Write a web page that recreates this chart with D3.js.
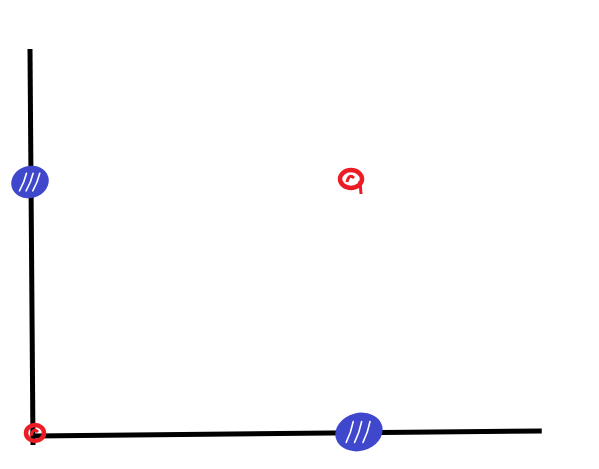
<!DOCTYPE html>
<html><head><meta charset="utf-8">
<script src="https://cdn.jsdelivr.net/npm/d3@7"></script>
<style>html,body{margin:0;padding:0;background:#fff;}svg{display:block;}</style>
</head><body>
<script>
// Data: XOR-like points
const xValues = [0, 0, 1, 1];
const yValues = [0, 1, 0, 1];
const classes = ["red", "blue", "blue", "red"];
const axisMax = { x: 1.58, y: 1.52 };

const W = 599, H = 469;
const svg = d3.select("body").append("svg").attr("width", W).attr("height", H);

const x = d3.scaleLinear().domain([0, 1]).range([33, 355]);
const y = d3.scaleLinear().domain([0, 1]).range([435, 181]);
const color = d3.scaleOrdinal().domain(["red", "blue"]).range(["#ec1c24", "#3f48cc"]);

// axes (hand-drawn style, slight tilt)
svg.append("line")
  .attr("x1", x(0) - 3).attr("y1", y(axisMax.y))
  .attr("x2", x(0)).attr("y2", y(0) + 10)
  .attr("stroke", "#000").attr("stroke-width", 5).attr("stroke-linecap", "butt");
svg.append("line")
  .attr("x1", x(0)).attr("y1", y(0) + 1)
  .attr("x2", x(axisMax.x)).attr("y2", y(0) - 4)
  .attr("stroke", "#000").attr("stroke-width", 5);

const pts = xValues.map((v, i) => ({ x: v, y: yValues[i], c: classes[i] }));
const sizes = { "0,0": [11, 10], "0,1": [19, 16], "1,0": [24, 19], "1,1": [13, 11] };
const offs = { "0,0": [2, -2], "0,1": [-3, 1], "1,0": [4, -3], "1,1": [-4, -2] };

const g = svg.append("g");
pts.forEach(p => {
  const k = p.x + "," + p.y;
  const [rx, ry] = sizes[k];
  const [dx, dy] = offs[k];
  const cx = x(p.x) + dx, cy = y(p.y) + dy;
  const col = color(p.c);
  if (p.c === "blue") {
    g.append("ellipse").attr("cx", cx).attr("cy", cy).attr("rx", rx).attr("ry", ry)
      .attr("fill", col).attr("transform", `rotate(-15,${cx},${cy})`);
    // white scribble gaps
    [-0.45, -0.1, 0.25].forEach(f => {
      g.append("path")
        .attr("d", `M${cx + f * rx - 2},${cy + ry * 0.55} Q${cx + f * rx + 3},${cy} ${cx + f * rx + 5},${cy - ry * 0.55}`)
        .attr("fill", "none").attr("stroke", "#fff").attr("stroke-width", 1.6).attr("stroke-linecap", "round");
    });
  } else {
    g.append("ellipse").attr("cx", cx).attr("cy", cy).attr("rx", rx - 2).attr("ry", ry - 2)
      .attr("fill", "none").attr("stroke", col).attr("stroke-width", 4.5);
    g.append("path")
      .attr("d", `M${cx - 4},${cy + 3} Q${cx - 2},${cy - 6} ${cx + 3},${cy - 1}`)
      .attr("fill", "none").attr("stroke", col).attr("stroke-width", 3);
    if (p.x === 1) {
      g.append("path").attr("d", `M${cx + 9},${cy + 2} L${cx + 10},${cy + 15}`)
        .attr("stroke", col).attr("stroke-width", 3).attr("fill", "none");
    }
  }
});
</script>
</body></html>
